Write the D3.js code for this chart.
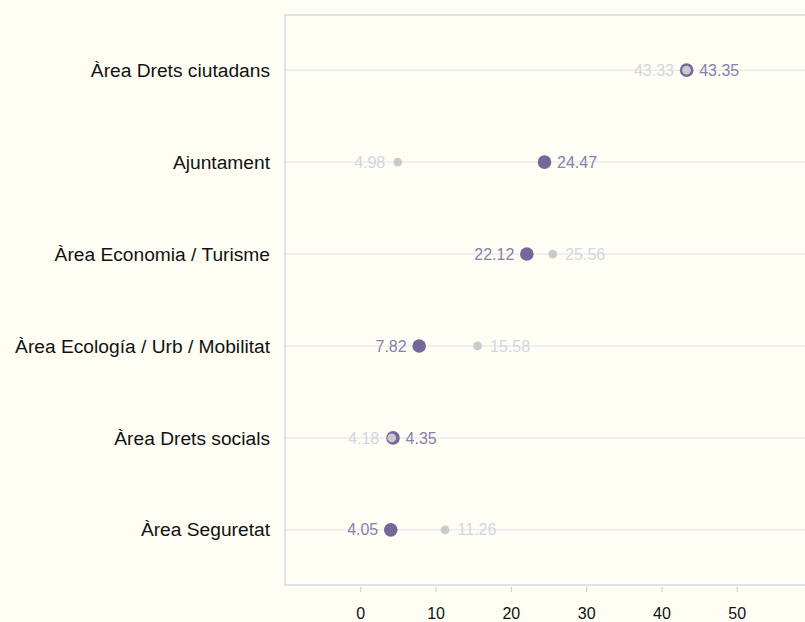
<!DOCTYPE html>
<html>
<head>
<meta charset="utf-8">
<script src="https://cdn.jsdelivr.net/npm/d3@7"></script>
<style>
  html, body { margin: 0; padding: 0; background: #fffef5; }
  svg { display: block; }
  text { font-family: "Liberation Sans", Arial, sans-serif; }
</style>
</head>
<body>
<svg id="chart" width="805" height="622"></svg>
<script>
const categories = ["Àrea Drets ciutadans", "Ajuntament", "Àrea Economia / Turisme",
  "Àrea Ecología / Urb / Mobilitat", "Àrea Drets socials", "Àrea Seguretat"];
const seriesPurple = [43.35, 24.47, 22.12, 7.82, 4.35, 4.05];
const seriesGrey = [43.33, 4.98, 25.56, 15.58, 4.18, 11.26];
const xTicks = [0, 10, 20, 30, 40, 50];

const W = 805, H = 622;
const mLeft = 285, mTop = 15, mBottom = 585, mRight = 812;

const svg = d3.select("#chart");
svg.append("rect").attr("width", W).attr("height", H).attr("fill", "#fffef5");

const x = d3.scaleLinear().domain([-10, 60]).range([mLeft, mRight]);
const y = d3.scalePoint().domain(categories).range([mTop, mBottom]).padding(0.6);

// gridlines
svg.append("g").selectAll("line").data(categories).join("line")
  .attr("x1", mLeft).attr("x2", mRight)
  .attr("y1", d => y(d)).attr("y2", d => y(d))
  .attr("stroke", "#ebebee").attr("stroke-width", 1.5);

// frame
svg.append("rect").attr("x", mLeft).attr("y", mTop)
  .attr("width", mRight - mLeft).attr("height", mBottom - mTop)
  .attr("fill", "none").attr("stroke", "#d9dae2").attr("stroke-width", 1.5);

// x axis
const xAxis = d3.axisBottom(x).tickValues(xTicks).tickSize(5).tickPadding(16).tickFormat(d3.format("d"));
const gx = svg.append("g").attr("transform", `translate(0,${mBottom + 2})`).call(xAxis);
gx.select(".domain").remove();
gx.selectAll(".tick line").attr("stroke", "#d0d2da").attr("stroke-width", 1.2);
gx.selectAll(".tick text").attr("fill", "#111").style("font-size", "16px")
  .style("font-family", "'Liberation Sans', Arial, sans-serif");

// y axis labels
const yAxis = d3.axisLeft(y).tickSize(0).tickPadding(15);
const gy = svg.append("g").attr("transform", `translate(${mLeft},0)`).call(yAxis);
gy.select(".domain").remove();
gy.selectAll(".tick text").attr("fill", "#111").style("font-size", "19.2px")
  .style("font-family", "'Liberation Sans', Arial, sans-serif");

const rows = categories.map((c, i) => ({ c, p: seriesPurple[i], g: seriesGrey[i] }));

// purple dots
svg.append("g").selectAll("circle").data(rows).join("circle")
  .attr("cx", d => x(d.p)).attr("cy", d => y(d.c)).attr("r", 6.8)
  .attr("fill", "#76679b");
// grey dots (on top)
svg.append("g").selectAll("circle").data(rows).join("circle")
  .attr("cx", d => x(d.g)).attr("cy", d => y(d.c)).attr("r", 4.4)
  .attr("fill", "#cacaca");

// labels
const fmt = d3.format(".2f");
const off = 12.5;
svg.append("g").selectAll("text").data(rows).join("text")
  .attr("x", d => d.p >= d.g ? x(d.p) + off : x(d.p) - off)
  .attr("y", d => y(d.c)).attr("dy", "0.35em")
  .attr("text-anchor", d => d.p >= d.g ? "start" : "end")
  .attr("fill", "#8680ad").style("font-size", "16px")
  .text(d => fmt(d.p));
svg.append("g").selectAll("text").data(rows).join("text")
  .attr("x", d => d.p >= d.g ? x(d.g) - off : x(d.g) + off)
  .attr("y", d => y(d.c)).attr("dy", "0.35em")
  .attr("text-anchor", d => d.p >= d.g ? "end" : "start")
  .attr("fill", "#d3d6df").style("font-size", "16px")
  .text(d => fmt(d.g));
</script>
</body>
</html>
